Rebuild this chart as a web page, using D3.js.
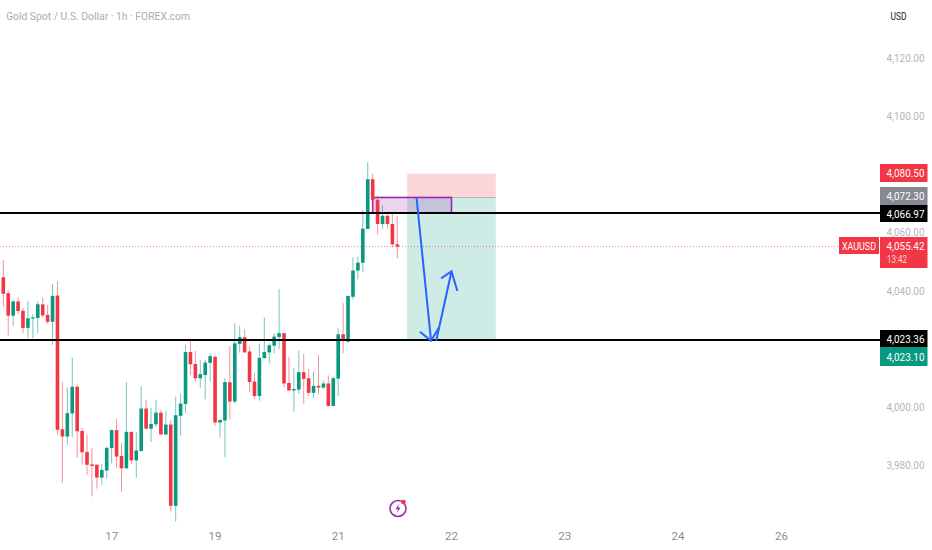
<!DOCTYPE html>
<html>
<head>
<meta charset="utf-8">
<script src="https://cdnjs.cloudflare.com/ajax/libs/d3/7.8.5/d3.min.js"></script>
<style>
    html, body { margin: 0; padding: 0; background: #fff; }
    svg { display: block; }
    text { font-family: Roboto, sans-serif; }
</style>
</head>
<body>
<svg id="chart"></svg>
<script>
// hourly candles
const opens = [4044.9, 4039.4, 4031.7, 4036.6, 4033.4, 4027.5, 4030.8, 4030.9, 4035.6, 4032.0, 4029.6, 4038.6, 3992.7, 3990.2, 3998.1, 4007.3, 3992.1, 3984.9, 3980.6, 3980.5, 3976.1, 3978.5, 3986.2, 3992.4, 3983.5, 3979.3, 3991.8, 3982.0, 3985.2, 3999.8, 3992.9, 3994.4, 3998.4, 3990.9, 3994.3, 3966.4, 3997.3, 4001.4, 4019.2, 4015.1, 4010.2, 4011.3, 4015.5, 4017.6, 3995.0, 3995.7, 4008.8, 4002.2, 4022.0, 4024.3, 4019.4, 4009.1, 4004.1, 4017.1, 4019.1, 4021.4, 4024.4, 4025.7, 4008.6, 4006.0, 4006.3, 4012.3, 4010.2, 4005.2, 4007.6, 4007.0, 4008.4, 4000.7, 4010.1, 4025.3, 4022.8, 4038.2, 4047.2, 4049.9, 4061.5, 4078.6, 4071.5, 4063.2, 4066.0, 4063.2, 4056.2];
const highs = [4050.8, 4040.3, 4037.1, 4038.0, 4034.3, 4036.8, 4032.2, 4036.6, 4038.0, 4035.4, 4042.6, 4043.5, 4009.0, 4007.0, 4017.3, 4007.8, 3993.1, 3990.7, 3986.3, 3980.7, 3980.7, 3986.8, 3992.5, 3996.3, 3987.9, 4008.9, 3991.8, 3991.8, 4007.4, 4002.8, 4000.0, 4002.8, 3999.3, 3999.0, 3995.9, 4003.9, 4004.8, 4021.6, 4023.9, 4019.6, 4016.5, 4016.5, 4018.8, 4017.8, 3995.9, 4010.2, 4021.3, 4029.1, 4028.2, 4027.0, 4021.3, 4011.9, 4022.2, 4031.1, 4022.2, 4025.7, 4040.9, 4025.7, 4017.6, 4013.6, 4019.6, 4018.6, 4013.4, 4012.5, 4018.2, 4009.4, 4011.2, 4010.8, 4027.4, 4036.0, 4038.5, 4051.7, 4052.0, 4068.0, 4084.4, 4080.4, 4072.8, 4069.7, 4066.9, 4066.9, 4065.9];
const lows = [4034.6, 4024.9, 4028.2, 4032.3, 4025.7, 4024.0, 4024.0, 4025.7, 4031.0, 4028.9, 4021.7, 3990.8, 3974.4, 3987.4, 3990.0, 3982.9, 3980.5, 3977.0, 3969.6, 3972.3, 3973.6, 3975.8, 3981.0, 3979.3, 3971.3, 3979.0, 3980.8, 3976.0, 3985.2, 3992.7, 3988.3, 3993.4, 3990.9, 3990.6, 3964.4, 3961.0, 3990.5, 3998.2, 4011.3, 4009.1, 4006.9, 4003.0, 4009.1, 3993.9, 3989.8, 3983.0, 3996.1, 4001.6, 4019.0, 4019.0, 4005.6, 4003.1, 4002.5, 4017.1, 4015.3, 4018.8, 4020.2, 4007.0, 4005.8, 3998.8, 4004.8, 4001.5, 4004.1, 4003.4, 4004.6, 4006.5, 4000.5, 4000.7, 4004.1, 4018.8, 4022.4, 4037.3, 4044.2, 4046.8, 4061.5, 4066.9, 4059.6, 4061.5, 4061.6, 4055.2, 4051.4];
const closes = [4039.2, 4031.7, 4036.6, 4033.3, 4027.5, 4030.8, 4031.1, 4035.6, 4031.8, 4029.6, 4038.5, 3992.5, 3990.2, 3998.2, 4007.3, 3992.0, 3984.8, 3980.5, 3980.1, 3976.1, 3978.7, 3986.3, 3992.4, 3983.3, 3979.3, 3991.8, 3982.0, 3985.4, 3999.8, 3992.9, 3994.5, 3998.4, 3990.9, 3994.3, 3966.4, 3997.5, 4001.5, 4019.2, 4015.0, 4010.2, 4011.6, 4015.6, 4017.8, 3995.0, 3995.9, 4008.9, 4002.2, 4022.2, 4024.3, 4019.1, 4008.9, 4004.1, 4017.2, 4019.2, 4021.5, 4024.5, 4025.7, 4008.4, 4006.0, 4006.5, 4012.3, 4010.0, 4005.2, 4007.6, 4007.0, 4008.4, 4000.7, 4010.2, 4025.3, 4023.2, 4038.5, 4047.2, 4049.9, 4061.6, 4078.6, 4071.5, 4063.2, 4066.0, 4063.2, 4056.2, 4055.4];

const priceTicks = [4120, 4100, 4060, 4040, 4000, 3980];
const dayLabels = ["17", "19", "21", "22", "23", "24", "26"];
const dayBars = [22, 43, 68, 91, 114, 137, 158];

// drawn levels and the short position
const levels = [4066.97, 4023.36];
const lastPrice = 4055.42;
const stopPrice = 4080.50;
const entryPrice = 4072.30;
const targetPrice = 4023.10;
const positionBars = [82, 100];
const zoneBars = [75, 91];
const zonePrices = [4072.30, 4066.97];

// blue arrows, [bar, price]
const arrowDown = [[83.9, 4072.3], [86.85, 4023.1]];
const arrowDownHead = [[84.6, 4026.2], [86.85, 4023.1], [88.5, 4027.7]];
const arrowUp = [[87.9, 4023.1], [91, 4046.9]];
const arrowUpHead = [[88.9, 4044.5], [91, 4046.9], [92.2, 4040.2]];

const green = "#089981";
const red = "#f23645";
const width = 932;
const height = 550;

const svg = d3.select("#chart").attr("width", width).attr("height", height);

const x = d3.scaleLinear().domain([0, 100]).range([3.3, 495.8]);
const y = d3.scaleLinear().domain([3980, 4120]).range([466.2, 58.6]);

const bars = d3.range(opens.length);
const barColor = i => closes[i] >= opens[i] ? green : red;

// position tool
svg.append("rect")
    .attr("x", x(positionBars[0])).attr("width", x(positionBars[1]) - x(positionBars[0]))
    .attr("y", y(stopPrice)).attr("height", y(entryPrice) - y(stopPrice))
    .attr("fill", red).attr("fill-opacity", 0.2);
svg.append("rect")
    .attr("x", x(positionBars[0])).attr("width", x(positionBars[1]) - x(positionBars[0]))
    .attr("y", y(entryPrice)).attr("height", y(targetPrice) - y(entryPrice))
    .attr("fill", green).attr("fill-opacity", 0.2);
svg.append("line")
    .attr("x1", x(positionBars[0])).attr("x2", x(positionBars[1]))
    .attr("y1", y(entryPrice)).attr("y2", y(entryPrice))
    .attr("stroke", "#b2b5be").attr("stroke-width", 1);

// purple zone, under the candles
svg.append("rect")
    .attr("x", x(zoneBars[0])).attr("width", x(zoneBars[1]) - x(zoneBars[0]))
    .attr("y", y(zonePrices[0])).attr("height", y(zonePrices[1]) - y(zonePrices[0]))
    .attr("fill", "#9c27b0").attr("fill-opacity", 0.2)
    .attr("stroke", "#9c27b0").attr("stroke-width", 1.6);

// candles
svg.append("g").selectAll("line").data(bars).join("line")
    .attr("x1", i => x(i)).attr("x2", i => x(i))
    .attr("y1", i => y(highs[i])).attr("y2", i => y(lows[i]))
    .attr("stroke", barColor).attr("stroke-opacity", 0.55).attr("stroke-width", 1);
svg.append("g").selectAll("rect").data(bars).join("rect")
    .attr("x", i => x(i) - 1.8).attr("width", 3.6)
    .attr("y", i => y(Math.max(opens[i], closes[i])))
    .attr("height", i => Math.max(1.2, Math.abs(y(opens[i]) - y(closes[i]))))
    .attr("fill", barColor);

// last price dotted line
svg.append("line")
    .attr("x1", 0).attr("x2", 839)
    .attr("y1", y(lastPrice)).attr("y2", y(lastPrice))
    .attr("stroke", red).attr("stroke-opacity", 0.6).attr("stroke-dasharray", "1 2");

// black levels
svg.append("g").selectAll("line").data(levels).join("line")
    .attr("x1", 0).attr("x2", 880)
    .attr("y1", d => y(d)).attr("y2", d => y(d))
    .attr("stroke", "#000").attr("stroke-width", 2);

// arrows
const arrowLine = d3.line().x(d => x(d[0])).y(d => y(d[1]));
svg.append("g").selectAll("path")
    .data([arrowDown, arrowDownHead, arrowUp, arrowUpHead]).join("path")
    .attr("d", arrowLine)
    .attr("fill", "none").attr("stroke", "#2962ff").attr("stroke-width", 2);

// the original font is narrower than anything installed, so squeeze to fit
function label(cx, cy, str, fill, len) {
    return svg.append("text").attr("x", cx).attr("y", cy)
        .attr("text-anchor", "middle").attr("dominant-baseline", "central")
        .attr("textLength", len).attr("lengthAdjust", "spacingAndGlyphs")
        .attr("fill", fill).style("font-size", "11.5px").text(str);
}

// price axis
const fmt = d3.format(",.2f");
priceTicks.forEach(d => label(905.5, y(d) - 1, fmt(d), "#b2b5be", 38));

// time axis
svg.append("g").selectAll("text").data(dayLabels).join("text")
    .attr("x", (d, i) => x(dayBars[i])).attr("y", 536)
    .attr("text-anchor", "middle").attr("dominant-baseline", "central")
    .attr("fill", "#8a8d98").style("font-size", "11.5px")
    .text(d => d);

// price tags
const tags = [
    { price: stopPrice, top: 164, h: 18, fill: red },
    { price: entryPrice, top: 187, h: 18, fill: "#868993" },
    { price: levels[0], top: 205, h: 17, fill: "#000" },
    { price: levels[1], top: 330, h: 17, fill: "#000" },
    { price: targetPrice, top: 347, h: 19, fill: green },
];
tags.forEach(t => {
    svg.append("rect").attr("x", 880).attr("y", t.top).attr("width", 47.5).attr("height", t.h).attr("fill", t.fill);
    label(905.5, t.top + t.h / 2, fmt(t.price), "#fff", 38);
});

// last price tag
svg.append("rect").attr("x", 880).attr("y", 237).attr("width", 47.5).attr("height", 31).attr("fill", red);
label(905.5, 246, fmt(lastPrice), "#fff", 38);
label(897, 259.5, "13:42", "#fff", 20).attr("fill-opacity", 0.8).style("font-size", "10.5px");
svg.append("rect").attr("x", 839).attr("y", 237).attr("width", 40).attr("height", 17).attr("fill", red);
label(859, 246, "XAUUSD", "#fff", 34).style("font-size", "11px");

// header
label(98, 16, "Gold Spot / U.S. Dollar · 1h · FOREX.com", "#a9acb5", 184);
label(898.5, 16, "USD", "#131722", 16).style("font-size", "11px");

// earnings style icon under the bars
const icon = svg.append("g").attr("transform", "translate(398,508.5)");
icon.append("circle").attr("r", 8).attr("fill", "#fff")
    .attr("stroke", "#9c27b0").attr("stroke-width", 1.6);
icon.append("path").attr("d", "M1.5,-5 L-2.5,0.8 L0,0.8 L-1.5,5 L2.5,-1 L0,-1 Z").attr("fill", "#9c27b0");
icon.append("circle").attr("cx", 5.5).attr("cy", -6.5).attr("r", 2.3).attr("fill", red);
</script>
</body>
</html>
